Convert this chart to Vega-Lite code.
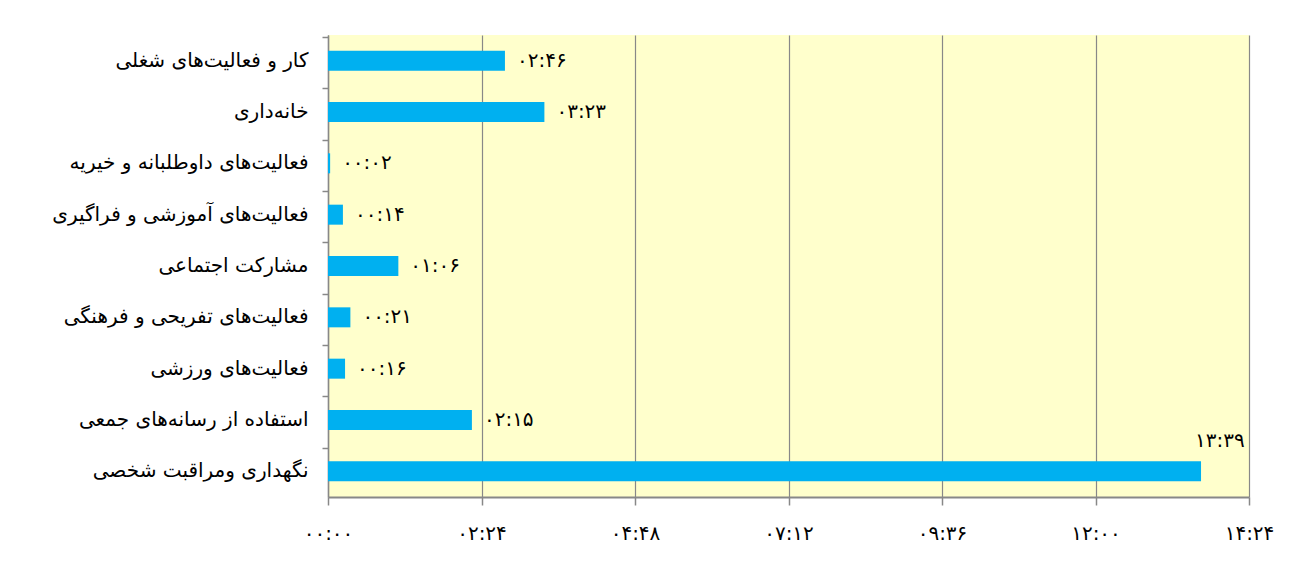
{
  "$schema": "https://vega.github.io/schema/vega-lite/v6.json",
  "autosize": "none",
  "width": 921,
  "height": 462,
  "padding": {"left": 328, "top": 35, "right": 65, "bottom": 70},
  "background": "white",
  "config": {
    "view": {"fill": "#FFFFCC", "stroke": null},
    "font": "DejaVu Sans"
  },
  "data": {
    "values": [
      {"activity": "کار و فعالیت‌های شغلی", "minutes": 166, "label": "۰۲:۴۶"},
      {"activity": "خانه‌داری", "minutes": 203, "label": "۰۳:۲۳"},
      {"activity": "فعالیت‌های داوطلبانه و خیریه", "minutes": 2, "label": "۰۰:۰۲"},
      {"activity": "فعالیت‌های آموزشی و فراگیری", "minutes": 14, "label": "۰۰:۱۴"},
      {"activity": "مشارکت اجتماعی", "minutes": 66, "label": "۰۱:۰۶"},
      {"activity": "فعالیت‌های تفریحی و فرهنگی", "minutes": 21, "label": "۰۰:۲۱"},
      {"activity": "فعالیت‌های ورزشی", "minutes": 16, "label": "۰۰:۱۶"},
      {"activity": "استفاده از رسانه‌های جمعی", "minutes": 135, "label": "۰۲:۱۵"},
      {"activity": "نگهداری ومراقبت شخصی", "minutes": 819, "label": "۱۳:۳۹"}
    ]
  },
  "encoding": {
    "y": {
      "field": "activity",
      "type": "nominal",
      "sort": null,
      "title": null,
      "axis": {
        "bandPosition": 0,
        "tickSize": 6,
        "tickColor": "#888888",
        "tickWidth": 1.5,
        "domainColor": "#888888",
        "domainWidth": 1.5,
        "labelPadding": 14,
        "labelFontSize": 20,
        "labelColor": "black",
        "labelLimit": 400,
        "grid": false
      }
    },
    "x": {
      "field": "minutes",
      "type": "quantitative",
      "title": null,
      "scale": {"domain": [0, 864], "nice": false},
      "axis": {
        "values": [0, 144, 288, 432, 576, 720, 864],
        "grid": true,
        "gridColor": "#888888",
        "gridWidth": 1.2,
        "gridOpacity": 1,
        "tickSize": 8,
        "tickColor": "#888888",
        "tickWidth": 1.5,
        "domainColor": "#888888",
        "domainWidth": 2,
        "labelPadding": 18,
        "labelFontSize": 20,
        "labelColor": "black",
        "labelFlush": false,
        "labelExpr": "datum.value == 0 ? '۰۰:۰۰' : datum.value == 144 ? '۰۲:۲۴' : datum.value == 288 ? '۰۴:۴۸' : datum.value == 432 ? '۰۷:۱۲' : datum.value == 576 ? '۰۹:۳۶' : datum.value == 720 ? '۱۲:۰۰' : '۱۴:۲۴'"
      }
    }
  },
  "layer": [
    {
      "mark": {"type": "bar", "size": 20, "color": "#00B0F0"}
    },
    {
      "transform": [{"filter": "datum.minutes < 700"}],
      "mark": {"type": "text", "align": "left", "baseline": "middle", "dx": 12, "fontSize": 20, "color": "black"},
      "encoding": {"text": {"field": "label"}}
    },
    {
      "transform": [{"filter": "datum.minutes >= 700"}],
      "mark": {"type": "text", "align": "left", "baseline": "middle", "dx": -6, "dy": -30, "fontSize": 20, "color": "black"},
      "encoding": {"text": {"field": "label"}}
    }
  ]
}
